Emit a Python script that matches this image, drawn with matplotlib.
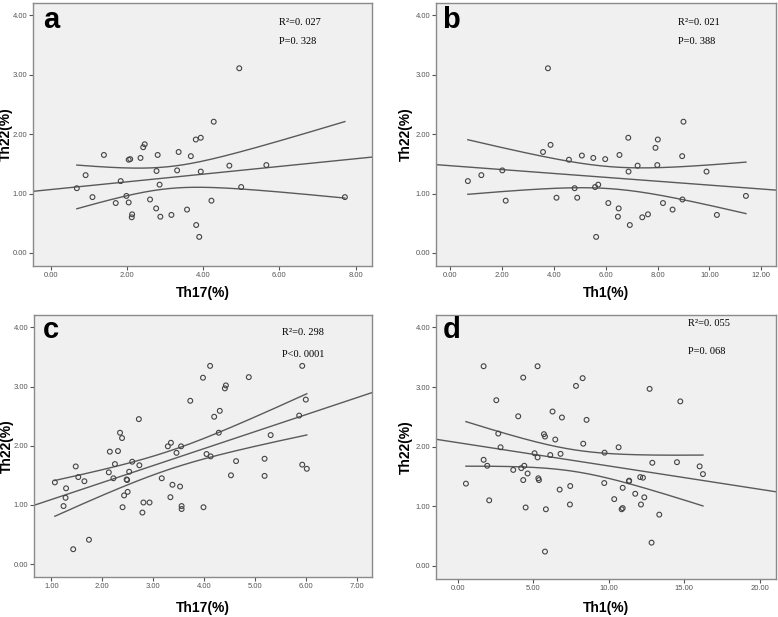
import numpy as np
import matplotlib
matplotlib.use("Agg")
import matplotlib.pyplot as plt

# Panel a: Th17 vs Th22 (group 1)
a_x = [0.69, 0.92, 1.10, 1.40, 1.71, 1.84, 1.99, 2.05, 2.05, 2.09, 2.14, 2.13, 2.36, 2.43,
       2.47, 2.61, 2.78, 2.77, 2.81, 2.86, 2.88, 3.17, 3.32, 3.36, 3.58, 3.68, 3.81, 3.82,
       3.94, 3.90, 3.94, 4.22, 4.28, 4.69, 4.95, 5.00, 5.66, 7.72]
a_y = [1.09, 1.31, 0.94, 1.65, 0.84, 1.21, 0.96, 0.85, 1.57, 1.58, 0.65, 0.60, 1.60, 1.78,
       1.83, 0.90, 1.38, 0.75, 1.65, 1.15, 0.61, 0.64, 1.39, 1.70, 0.73, 1.63, 1.91, 0.47,
       1.94, 0.27, 1.37, 0.88, 2.21, 1.47, 3.11, 1.11, 1.48, 0.94]

# Panel b: Th1 vs Th22 (group 1)
b_x = [0.68, 1.20, 2.01, 2.14, 3.77, 3.58, 3.87, 4.10, 4.58, 4.80, 4.90, 5.08, 5.52, 5.59,
       5.71, 5.63, 5.98, 6.10, 6.47, 6.50, 6.53, 6.87, 6.88, 6.93, 7.23, 7.41, 7.63, 7.92,
       7.99, 8.01, 8.21, 8.58, 8.95, 8.96, 9.00, 9.89, 10.29, 11.41]
b_y = [1.21, 1.31, 1.39, 0.88, 3.11, 1.70, 1.82, 0.93, 1.57, 1.09, 0.93, 1.64, 1.60, 1.11,
       1.15, 0.27, 1.58, 0.84, 0.61, 0.75, 1.65, 1.94, 1.37, 0.47, 1.47, 0.60, 0.65, 1.77,
       1.48, 1.91, 0.84, 0.73, 1.63, 0.90, 2.21, 1.37, 0.64, 0.96]

# Panel c: Th17 vs Th22 (group 2)
c_x = [1.07, 1.24, 1.28, 1.29, 1.43, 1.48, 1.53, 1.65, 1.74, 2.13, 2.15, 2.22, 2.25, 2.31,
       2.35, 2.39, 2.40, 2.43, 2.48, 2.49, 2.50, 2.53, 2.59, 2.72, 2.73, 2.79, 2.81, 2.93,
       3.17, 3.29, 3.34, 3.35, 3.38, 3.46, 3.53, 3.55, 3.56, 3.56, 3.73, 3.98, 3.99, 4.05,
       4.13, 4.12, 4.20, 4.29, 4.31, 4.41, 4.43, 4.53, 4.63, 4.88, 5.19, 5.19, 5.31, 5.87,
       5.93, 5.93, 6.00, 6.02]
c_y = [1.38, 0.98, 1.12, 1.28, 0.25, 1.65, 1.47, 1.40, 0.41, 1.55, 1.90, 1.45, 1.69, 1.91,
       2.22, 2.13, 0.96, 1.16, 1.43, 1.42, 1.22, 1.56, 1.73, 2.45, 1.67, 0.87, 1.04, 1.04,
       1.45, 1.99, 1.13, 2.05, 1.34, 1.88, 1.31, 1.99, 0.98, 0.93, 2.76, 3.15, 0.96, 1.86,
       1.82, 3.35, 2.49, 2.22, 2.59, 2.97, 3.02, 1.50, 1.74, 3.16, 1.78, 1.49, 2.18, 2.51,
       3.35, 1.68, 2.78, 1.61]

# Panel d: Th1 vs Th22 (group 2)
d_x = [0.55, 1.72, 1.72, 1.96, 2.09, 2.56, 2.69, 2.84, 3.68, 4.01, 4.21, 4.34, 4.34, 4.41,
       4.50, 4.63, 5.09, 5.29, 5.29, 5.34, 5.38, 5.71, 5.78, 5.78, 5.84, 6.13, 6.28, 6.46,
       6.75, 6.81, 6.90, 7.43, 7.45, 7.83, 8.27, 8.31, 8.53, 9.70, 9.72, 10.36, 10.65, 10.85,
       10.92, 10.92, 11.33, 11.35, 11.75, 12.08, 12.13, 12.26, 12.35, 12.70, 12.83, 12.88,
       13.34, 14.51, 14.73, 16.01, 16.23]
d_y = [1.38, 3.35, 1.78, 1.68, 1.10, 2.78, 2.22, 1.99, 1.61, 2.51, 1.64, 1.44, 3.16, 1.68,
       0.98, 1.55, 1.89, 3.35, 1.82, 1.47, 1.44, 2.21, 2.17, 0.24, 0.95, 1.86, 2.59, 2.12,
       1.28, 1.88, 2.49, 1.03, 1.34, 3.02, 3.15, 2.05, 2.45, 1.39, 1.90, 1.12, 1.99, 0.95,
       0.97, 1.31, 1.42, 1.43, 1.21, 1.49, 1.03, 1.48, 1.15, 2.97, 0.39, 1.73, 0.86, 1.74,
       2.76, 1.67, 1.54]

panels = [
    # letter, x, y, xlabel, xlim, xticks, stats, stats pos, letter pos, label coords, axes rect
    ("a", a_x, a_y, "Th17(%)", (-0.46, 8.43), np.arange(0, 9, 2),
     ["R²=0. 027", "P=0. 328"], (0.726, 0.924, 0.852), (0.03, 0.905), (-0.059, -0.076),
     [0.0424, 0.5689, 0.4357, 0.4263]),
    ("b", b_x, b_y, "Th1(%)", (-0.55, 12.57), np.arange(0, 13, 2),
     ["R²=0. 021", "P=0. 388"], (0.712, 0.924, 0.852), (0.018, 0.905), (-0.068, -0.076),
     [0.5604, 0.5689, 0.4370, 0.4263]),
    ("c", c_x, c_y, "Th17(%)", (0.66, 7.30), np.arange(1, 8, 1),
     ["R²=0. 298", "P<0. 0001"], (0.734, 0.935, 0.851), (0.027, 0.912), (-0.059, -0.092),
     [0.0437, 0.0648, 0.4344, 0.4246]),
    ("d", d_x, d_y, "Th1(%)", (-1.43, 21.06), np.arange(0, 21, 5),
     ["R²=0. 055", "P=0. 068"], (0.741, 0.968, 0.862), (0.02, 0.913), (-0.068, -0.083),
     [0.5604, 0.0616, 0.4370, 0.4279]),
]

LINE = "#5a5a5a"
fig = plt.figure(figsize=(7.78, 6.17), dpi=100)

for letter, xs, ys, xlabel, xlim, xticks, stats, spos, lpos, lab, rect in panels:
    ax = fig.add_axes(rect)
    xs = np.array(xs)
    ys = np.array(ys)
    ax.set_facecolor("#f0f0f0")
    for s in ax.spines.values():
        s.set_color("#8a8a8a")
        s.set_linewidth(1.0)

    # linear fit with 95% CI of the mean
    n = len(xs)
    slope, inter = np.polyfit(xs, ys, 1)
    resid = ys - (slope * xs + inter)
    s_err = np.sqrt(np.sum(resid ** 2) / (n - 2))
    sxx = np.sum((xs - xs.mean()) ** 2)
    t_crit = 2.03 if n < 45 else 2.0
    xg = np.linspace(xs.min(), xs.max(), 200)
    yg = slope * xg + inter
    half = t_crit * s_err * np.sqrt(1 / n + (xg - xs.mean()) ** 2 / sxx)
    xf = np.array(xlim)
    ax.plot(xf, slope * xf + inter, color=LINE, lw=1.0)
    ax.plot(xg, yg + half, color=LINE, lw=1.0)
    ax.plot(xg, yg - half, color=LINE, lw=1.0)

    ax.scatter(xs, ys, s=12, facecolors="none", edgecolors="#444444", linewidths=0.8, zorder=3)

    ax.set_xlim(*xlim)
    ax.set_ylim(-0.22, 4.21)
    ax.set_xticks(xticks)
    ax.set_xticklabels([f"{v:.2f}" for v in xticks], family="Liberation Sans")
    ax.set_yticks(np.arange(0, 5, 1))
    ax.set_yticklabels([f"{v:.2f}" for v in np.arange(0, 5, 1)], family="Liberation Sans")
    ax.tick_params(labelsize=5.5, colors="#555555", length=3, width=0.8, pad=1)

    ax.set_xlabel(xlabel, fontsize=10, fontweight="bold", family="Liberation Sans")
    ax.set_ylabel("Th22(%)", fontsize=10, fontweight="bold", family="Liberation Sans")
    ax.xaxis.set_label_coords(0.5, lab[1])
    ax.yaxis.set_label_coords(lab[0], 0.5)

    ax.text(lpos[0], lpos[1], letter, transform=ax.transAxes, fontsize=21, fontweight="bold",
            family="Liberation Sans", va="baseline", ha="left")
    ax.text(spos[0], spos[1], stats[0], transform=ax.transAxes, fontsize=7.5,
            family="Liberation Serif", va="center", ha="left")
    ax.text(spos[0], spos[2], stats[1], transform=ax.transAxes, fontsize=7.5,
            family="Liberation Serif", va="center", ha="left")

fig.savefig("out.png", dpi=100)
